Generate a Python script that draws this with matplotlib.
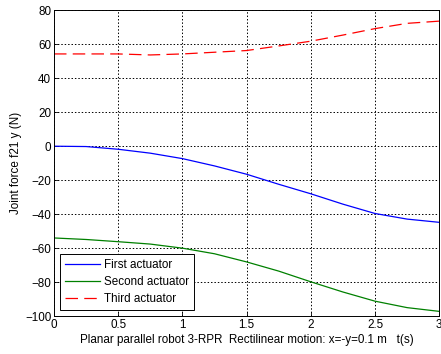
import matplotlib
matplotlib.use("Agg")
import matplotlib.pyplot as plt

t = [0, 0.25, 0.5, 0.75, 1.0, 1.25, 1.5, 1.75, 2.0, 2.25, 2.5, 2.75, 3.0]
first = [0, -0.2, -1.8, -4.1, -7.3, -11.6, -16.5, -22.4, -28.0, -34.1, -39.6, -42.9, -44.8]
second = [-54.0, -54.9, -56.2, -57.6, -60.0, -63.3, -68.1, -73.5, -79.8, -85.8, -91.2, -95.0, -97.2]
third = [54.3, 54.3, 54.3, 53.7, 54.3, 55.3, 56.3, 59.0, 61.8, 65.4, 69.2, 72.3, 73.6]
labels = ["First actuator", "Second actuator", "Third actuator"]
xticks = [0, 0.5, 1, 1.5, 2, 2.5, 3]
xticklabels = ["0", "0.5", "1", "1.5", "2", "2.5", "3"]
yticks = [-100, -80, -60, -40, -20, 0, 20, 40, 60, 80]

plt.rcParams['font.family'] = ['Liberation Sans', 'DejaVu Sans']
plt.rcParams['font.size'] = 8.4

fig = plt.figure(figsize=(4.41, 3.54), dpi=100)
ax = fig.add_axes([0.1224, 0.107, 0.8735, 0.864])
ax.plot(t, first, color='#0000ff', lw=0.9, label=labels[0])
ax.plot(t, second, color='#008000', lw=0.9, label=labels[1])
ax.plot(t, third, color='#ff0000', lw=0.9, dashes=(10, 5), label=labels[2])
ax.set_xlim(0, 3)
ax.set_ylim(-100, 80)
ax.set_xticks(xticks)
ax.set_xticklabels(xticklabels)
ax.set_yticks(yticks)
ax.grid(True, color='black', linestyle=(0, (1.5, 2)), linewidth=0.7)
ax.tick_params(direction='in', length=3, width=0.6, pad=2)
for s in ax.spines.values():
    s.set_linewidth(0.7)
ax.set_xlabel("Planar parallel robot 3-RPR  Rectilinear motion: x=-y=0.1 m   t(s)", labelpad=2)
ax.set_ylabel("Joint force f21 y (N)", labelpad=2)
leg = ax.legend(loc='lower left', bbox_to_anchor=(0.015, 0.02), fancybox=False,
                framealpha=1, edgecolor='black', handlelength=3.0, borderaxespad=0,
                labelspacing=0.4, handletextpad=0.35, borderpad=0.45)
leg.get_frame().set_linewidth(0.7)
fig.savefig("out.png", dpi=100)
